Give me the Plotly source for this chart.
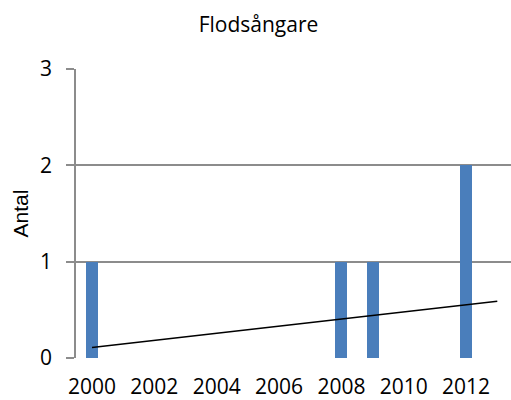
import plotly.graph_objects as go

years = [2000, 2008, 2009, 2012]
counts = [1, 1, 1, 2]
trend_years = [2000, 2013]
trend_values = [0.11, 0.59]
y_ticks = [0, 1, 2, 3]
x_ticks = [2000, 2002, 2004, 2006, 2008, 2010, 2012]

fig = go.Figure()
fig.add_trace(go.Bar(x=years, y=counts, width=0.39, marker=dict(color="#4A7EBB", line=dict(width=0)),
                     showlegend=False))
fig.add_trace(go.Scatter(x=trend_years, y=trend_values, mode="lines",
                         line=dict(color="black", width=1.5), showlegend=False))

fig.update_layout(
    width=511, height=400,
    margin=dict(l=76, r=0, t=69, b=42),
    paper_bgcolor="white", plot_bgcolor="white",
    font=dict(family="Open Sans", size=21, color="black"),
    title=dict(text="Flodsångare", x=258.5 / 511, xanchor="center", y=1 - 25 / 400, yanchor="middle",
               font=dict(family="Open Sans", size=21, color="black")),
    xaxis=dict(range=[1999.487, 2013.44], tickmode="array", tickvals=x_ticks, ticktext=[str(v) for v in x_ticks],
               showgrid=False, zeroline=False, showline=False, ticks="", ticklabelstandoff=14,
               automargin=False, tickfont=dict(family="Open Sans", size=21)),
    yaxis=dict(range=[0, 3], tickmode="array", tickvals=y_ticks, showgrid=True, gridcolor="#8C8C8C", gridwidth=1.5,
               zeroline=False, showline=True, linecolor="#8C8C8C", linewidth=1.5,
               ticks="outside", ticklen=8, tickcolor="#8C8C8C", tickwidth=1.5, ticklabelstandoff=10,
               automargin=False, tickfont=dict(family="Open Sans", size=21)),
    bargap=0,
    annotations=[dict(text="Antal", xref="paper", yref="paper", x=(20 - 76) / 435, y=0.5,
                      xanchor="center", yanchor="middle", textangle=-90, showarrow=False,
                      font=dict(family="Liberation Sans", size=21, color="black"))],
)
fig.write_html("out.html", config={"displayModeBar": False},
               post_script="document.body.style.margin='0';document.body.style.padding='0';")
